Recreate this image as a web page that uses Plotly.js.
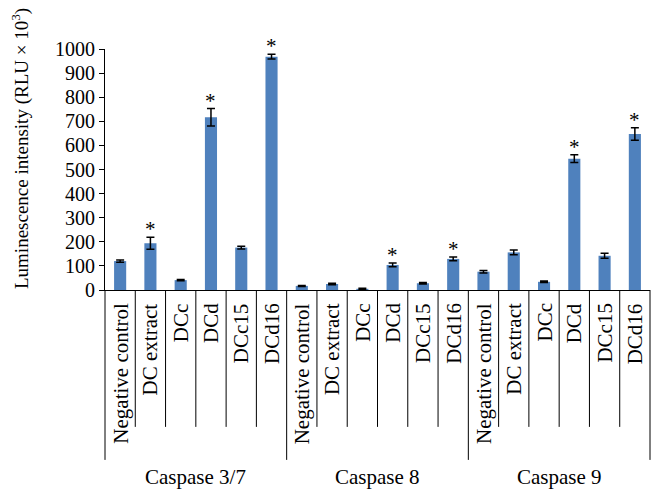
<!DOCTYPE html>
<html>
<head>
<meta charset="utf-8">
<script src="https://cdn.plot.ly/plotly-3.0.1.min.js"></script>
<style>
  body { margin: 0; background: #fff; }
  #chart { width: 665px; height: 501px; }
</style>
</head>
<body>
<div id="chart"></div>
<script>
// groups and samples
const groups = ['Caspase 3/7', 'Caspase 8', 'Caspase 9'];
const samples = ['Negative control', 'DC extract', 'DCc', 'DCd', 'DCc15', 'DCd16'];

// values (RLU x 10^3)
const casp37 = [120, 194, 41, 717, 176, 968];
const err37  = [5, 25, 3, 36, 6, 10];
const casp8  = [17, 25, 5, 104, 28, 129];
const err8   = [2, 3, 2, 8, 3, 8];
const casp9  = [76, 156, 34, 545, 142, 647];
const err9   = [5, 10, 3, 16, 10, 26];
// significance asterisks
const sig37 = [0, 1, 0, 1, 0, 1];
const sig8  = [0, 0, 0, 1, 0, 1];
const sig9  = [0, 0, 0, 1, 0, 1];

const yTicks = [0, 100, 200, 300, 400, 500, 600, 700, 800, 900, 1000];

const serif = 'Liberation Serif';
const values = casp37.concat(casp8, casp9);
const errors = err37.concat(err8, err9);
const sigs = sig37.concat(sig8, sig9);
const n = values.length;
const xs = values.map((v, i) => i);

const trace = {
  type: 'bar',
  x: xs,
  y: values,
  width: 0.4,
  marker: {color: '#4f81bd'},
  error_y: {type: 'data', array: errors, visible: true, color: '#000', thickness: 1.5, width: 4},
  hoverinfo: 'none'
};

const annotations = [];
const shapes = [];

// rotated category labels
xs.forEach(i => {
  annotations.push({
    x: i, y: 0, xref: 'x', yref: 'y',
    text: samples[i % samples.length],
    textangle: -90, showarrow: false,
    xanchor: 'center', yanchor: 'top', yshift: -11,
    font: {family: serif, size: 21, color: '#000'}
  });
  if (sigs[i]) {
    annotations.push({
      x: i, y: values[i] + errors[i], xref: 'x', yref: 'y',
      text: '*', showarrow: false,
      xanchor: 'center', yanchor: 'bottom', yshift: -6,
      font: {family: serif, size: 21, color: '#000'}
    });
  }
});

// group labels
groups.forEach((g, k) => {
  annotations.push({
    x: k * samples.length + (samples.length - 1) / 2, y: -0.775,
    xref: 'x', yref: 'paper',
    text: g, showarrow: false,
    xanchor: 'center', yanchor: 'middle',
    font: {family: serif, size: 21, color: '#000'}
  });
});

// separators between categories, longer at group edges
for (let i = 0; i <= n; i++) {
  const isGroup = i % samples.length === 0;
  shapes.push({
    type: 'line', xref: 'paper', yref: 'paper',
    x0: i / n, x1: i / n, y0: 0, y1: isGroup ? -0.705 : -0.568,
    line: {color: '#000', width: 1}
  });
}

// y title
annotations.push({
  x: 0, y: 0.585, xref: 'paper', yref: 'paper',
  xanchor: 'center', yanchor: 'middle', xshift: -85,
  text: 'Luminescence intensity (RLU × 10<sup>3</sup>)',
  textangle: -90, showarrow: false,
  font: {family: serif, size: 19, color: '#000'}
});

const layout = {
  width: 665, height: 501,
  margin: {l: 105, r: 15, t: 49, b: 211},
  paper_bgcolor: '#fff', plot_bgcolor: '#fff',
  font: {family: serif, color: '#000'},
  showlegend: false,
  bargap: 0.6,
  xaxis: {
    range: [-0.5, n - 0.5], showticklabels: false, ticks: '',
    showgrid: false, zeroline: false, showline: true, linecolor: '#000', linewidth: 1
  },
  yaxis: {
    range: [0, 1000], tickvals: yTicks, ticktext: yTicks.map(String),
    ticks: 'outside', ticklen: 5, tickcolor: '#000', tickwidth: 1,
    showgrid: false, zeroline: false, showline: true, linecolor: '#000', linewidth: 1,
    tickfont: {family: serif, size: 20, color: '#000'}
  },
  annotations: annotations,
  shapes: shapes
};

Plotly.newPlot('chart', [trace], layout, {staticPlot: true, displayModeBar: false});
</script>
</body>
</html>
